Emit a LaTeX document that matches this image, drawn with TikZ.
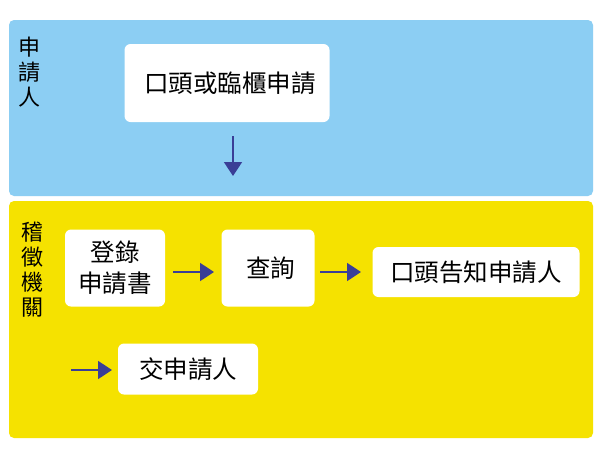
\documentclass[tikz,border=0pt]{standalone}
\usepackage{fontspec}
\setmainfont{Noto Sans CJK TC}
\usetikzlibrary{arrows.meta}
\definecolor{lanebluec}{HTML}{8CCEF3}
\definecolor{laneyelc}{HTML}{F5E200}
\definecolor{arrowc}{HTML}{3A3E96}
\tikzset{
  lane/.style={rounded corners=5pt, draw=none},
  boxw/.style={fill=white, rounded corners=6pt, draw=none, inner sep=0pt, align=center,
    font=\fontsize{24.5}{31}\selectfont},
  lanetitle/.style={align=center, inner sep=0pt, font=\fontsize{22}{25}\selectfont},
  flow/.style={draw=arrowc, line width=1.8pt, -{Triangle[width=18pt,length=14pt]}, shorten >=0pt},
}
\begin{document}
\begin{tikzpicture}[x=1pt,y=-1pt]
\useasboundingbox (0,0) rectangle (600,453);
\fill[white] (0,0) rectangle (600,453);
% lanes
\fill[lane, lanebluec] (9,20) rectangle (593,196);
\fill[lane, laneyelc] (9,201) rectangle (593,438);
% lane titles
\node[lanetitle] (t1) at (30,72) {申\\請\\人};
\node[lanetitle] (t2) at (32,270) {稽\\徵\\機\\關};
% boxes
\node[boxw, minimum width=205pt, minimum height=78pt] (b1) at (227,83) {\hspace*{6pt}口頭或臨櫃申請};
\node[boxw, minimum width=100pt, minimum height=77pt] (b2) at (115,268) {登錄\\申請書};
\node[boxw, minimum width=93pt, minimum height=77pt] (b3) at (268,268) {\hspace*{5pt}查詢};
\node[boxw, minimum width=207pt, minimum height=50pt] (b4) at (476,272) {口頭告知申請人};
\node[boxw, minimum width=140pt, minimum height=51pt] (b5) at (188,369) {交申請人};
% connectors
\coordinate (d0) at (233,136);
\coordinate (d1) at (233,176);
\draw[flow] (d0) -- (d1);
\coordinate (a0) at (173,272);
\coordinate (a1) at (214,272);
\draw[flow] (a0) -- (a1);
\coordinate (c0) at (320,272);
\coordinate (c1) at (361,272);
\draw[flow] (c0) -- (c1);
\coordinate (e0) at (71,370);
\coordinate (e1) at (112,370);
\draw[flow] (e0) -- (e1);
\end{tikzpicture}
\end{document}
